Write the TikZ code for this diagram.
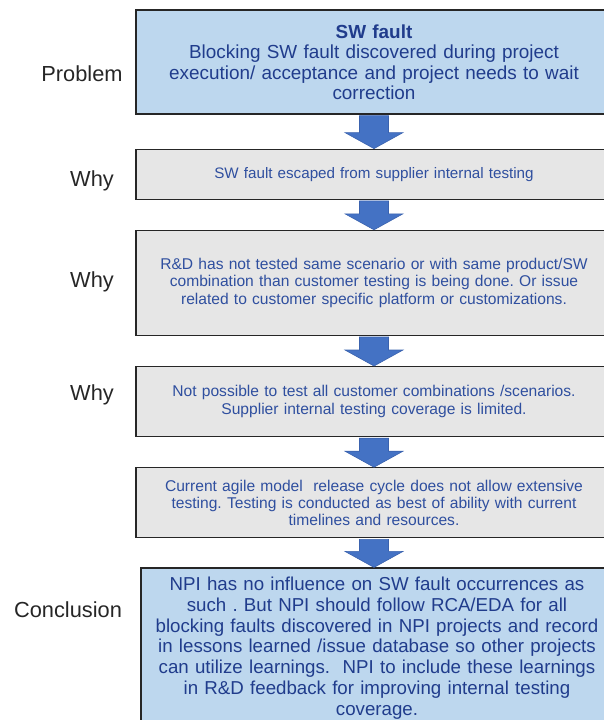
\documentclass[tikz,border=0pt]{standalone}
\usepackage{fontspec}
\setmainfont{Liberation Sans}
\usepackage{xcolor}
\usetikzlibrary{calc}
\usetikzlibrary{positioning}
\frenchspacing

\definecolor{boxblue}{HTML}{BDD7EE}
\definecolor{boxgray}{HTML}{E6E6E6}
\definecolor{navy}{HTML}{203C8C}
\definecolor{txtblue}{HTML}{2F4F9F}
\definecolor{arrblue}{HTML}{4472C4}
\definecolor{arredge}{HTML}{3A62AE}

% fat arrow from one box down to the next
\newcommand{\downarr}[2]{%
  \filldraw[arr] let \p1=(#1.south), \p2=(#2.north) in
    (\x1-14.5pt,\y1-1pt) -- (\x1+14.5pt,\y1-1pt) -- (\x1+14.5pt,\y2+16pt)
    -- (\x1+29pt,\y2+16pt) -- (\x1,\y2) -- (\x1-29pt,\y2+16pt)
    -- (\x1-14.5pt,\y2+16pt) -- cycle;}

\begin{document}
\begin{tikzpicture}[x=1pt,y=-1pt,node distance=30pt]
	\tikzstyle{box}=[draw=black!85, line width=1.2pt, inner sep=0pt, align=center,
	                 minimum width=476pt, text width=468pt]
	\tikzstyle{bluebox}=[box, fill=boxblue, text=navy]
	\tikzstyle{graybox}=[box, fill=boxgray, text=txtblue,
	                     font=\fontsize{15.6}{17.3}\selectfont]
	\tikzstyle{lbl}=[text=black!85, font=\fontsize{21.8}{24}\selectfont]
	\tikzstyle{arr}=[fill=arrblue, draw=arredge, line width=0.6pt]
	\useasboundingbox (0,0) rectangle (604,720);

	\node[bluebox, minimum height=104pt, font=\fontsize{18.9}{20.5}\selectfont] (fault)
		at (374,62) {\textbf{SW fault}\\Blocking SW fault discovered during project\\
		execution/ acceptance and project needs to wait\\correction};
	\node[graybox, minimum height=50pt, font=\fontsize{15.2}{16}\selectfont] (why1)
		[below=34pt of fault] {SW fault escaped from supplier\ internal testing};
	\node[graybox, minimum height=105pt] (why2) [below=of why1]
		{R\&D has not tested same scenario or with same product/SW\\
		combination than customer testing is being done. Or issue\\
		related to customer specific platform or customizations.};
	\node[graybox, minimum height=70pt] (why3) [below=of why2]
		{Not possible to test all customer combinations /scenarios.\\
		Supplier\ internal testing coverage is limited.};
	\node[graybox, minimum height=70pt] (agile) [below=of why3]
		{Current agile model\ \ release cycle does not allow extensive\\
		testing. Testing is conducted as best of ability with current\\
		timelines and resources.};
	\node[bluebox, minimum height=166pt, minimum width=472pt,
	      font=\fontsize{18.7}{20.7}\selectfont] (concl)
		[below=29pt of agile, xshift=3pt]
		{NPI has no influence on SW fault occurrences as\\
		such . But NPI should follow RCA/EDA for all\\
		blocking faults discovered in NPI projects and record\\
		in lessons learned /issue database so other projects\\
		can utilize learnings.\ \ NPI to include these learnings\\
		in R\&D feedback for improving internal testing\\
		coverage.\\[-11pt]\mbox{}};

	% row labels
	\node[lbl] (lprob) at (82,74) {Problem};
	\node[lbl] (lwhy1) at (92,181) {Why};
	\node[lbl] (lwhy2) at (92,282) {Why};
	\node[lbl] (lwhy3) at (92,395) {Why};
	\node[lbl] (lconc) at (68,610) {Conclusion};

	\downarr{fault}{why1}
	\downarr{why1}{why2}
	\downarr{why2}{why3}
	\downarr{why3}{agile}
	\downarr{agile}{concl}
\end{tikzpicture}
\end{document}
